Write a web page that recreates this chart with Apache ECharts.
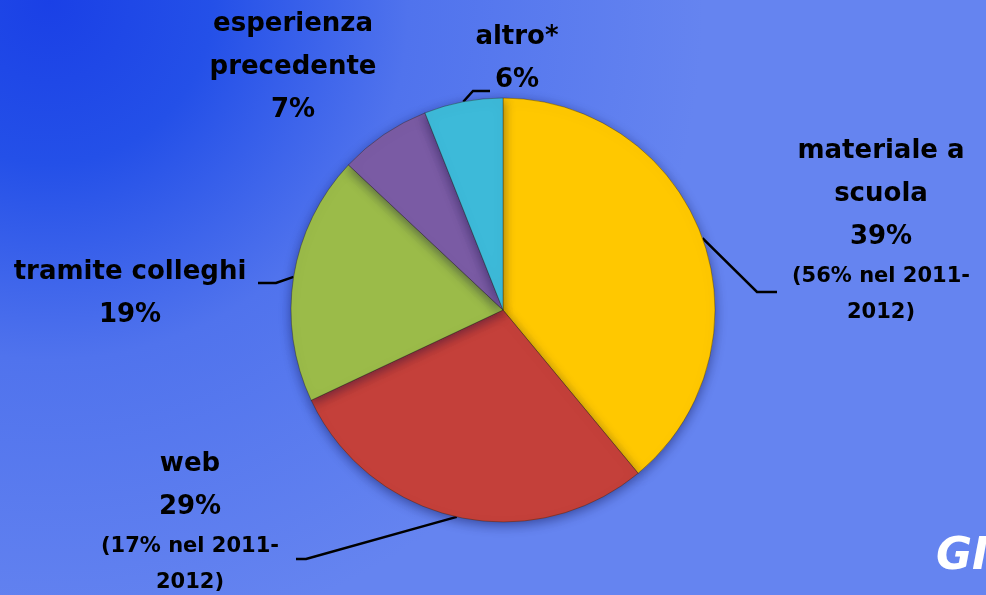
<!DOCTYPE html>
<html>
<head>
<meta charset="utf-8">
<title>Fonti di conoscenza</title>
<script src="https://cdn.jsdelivr.net/npm/echarts@6/dist/echarts.min.js"></script>
<style>
html,body{margin:0;padding:0;}
#main{width:986px;height:595px;}
</style>
</head>
<body>
<div id="main"></div>
<script>
// dati del grafico (percentuali)
var categories = ['materiale a\nscuola', 'web', 'tramite colleghi', 'esperienza\nprecedente', 'altro*'];
var values = [39, 29, 19, 7, 6];
var notes = ['(56% nel 2011-\n2012)', '(17% nel 2011-\n2012)', '', '', ''];
var colors = ['#FFC800', '#C4403A', '#9BBB49', '#7A5BA4', '#3DBAD9'];

// posizione etichette (centro in alto del blocco di testo)
var labelPos = [[881, 130], [190, 443], [130, 251], [293, 3], [517, 16]];
// gomito e fine della linea guida, null = niente linea
var linePts = [
  [[757, 292], [777, 292]],
  [[306, 559], [296, 559]],
  [[276, 283], [258, 283]],
  null,
  [[473, 91], [490, 91]]
];

var chart = echarts.init(document.getElementById('main'));

var data = values.map(function (v, i) {
  return {
    value: v,
    name: categories[i],
    itemStyle: { color: colors[i] },
    labelLine: { show: !!linePts[i] }
  };
});

chart.setOption({
  animation: false,
  // sfondo blu, più scuro in alto a sinistra
  backgroundColor: new echarts.graphic.RadialGradient(0.05, 0, 1.1, [
    { offset: 0, color: '#1a40e6' },
    { offset: 0.25, color: '#2450e8' },
    { offset: 0.55, color: '#5073ed' },
    { offset: 1, color: '#6584f0' }
  ]),
  graphic: [
    {
      type: 'text',
      x: 936,
      y: 536,
      style: {
        text: 'GI',
        fill: '#ffffff',
        font: 'italic bold 44px "DejaVu Sans"',
        textVerticalAlign: 'top'
      }
    }
  ],
  series: [
    {
      type: 'pie',
      center: [503, 310],
      radius: 212,
      startAngle: 90,
      clockwise: true,
      data: data,
      emphasis: { disabled: true },
      itemStyle: {
        borderColor: 'rgba(40,30,0,0.35)',
        borderWidth: 1,
        shadowBlur: 12,
        shadowColor: 'rgba(0,0,60,0.45)',
        shadowOffsetY: 3
      },
      label: {
        show: true,
        position: 'outside',
        color: '#000',
        fontFamily: 'DejaVu Sans',
        formatter: function (p) {
          var s = '{b|' + p.name + '}\n{b|' + p.value + '%}';
          if (notes[p.dataIndex]) s += '\n{s|' + notes[p.dataIndex] + '}';
          return s;
        },
        rich: {
          b: { fontSize: 26, fontWeight: 'bold', lineHeight: 43, color: '#000', fontFamily: 'DejaVu Sans' },
          s: { fontSize: 21, fontWeight: 'bold', lineHeight: 36, color: '#000', fontFamily: 'DejaVu Sans' }
        }
      },
      labelLine: {
        lineStyle: { color: '#000', width: 2.5 }
      },
      labelLayout: function (params) {
        var i = params.dataIndex;
        var out = { x: labelPos[i][0], y: labelPos[i][1], align: 'center', verticalAlign: 'top' };
        if (linePts[i] && params.labelLinePoints) {
          out.labelLinePoints = [params.labelLinePoints[0], linePts[i][0], linePts[i][1]];
        }
        return out;
      }
    }
  ]
});
</script>
</body>
</html>
